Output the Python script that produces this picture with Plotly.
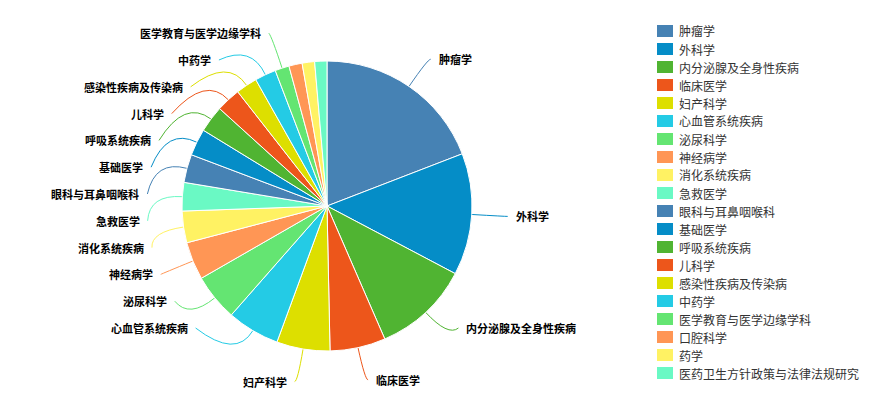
import math
import plotly.graph_objects as go

# ---- data -------------------------------------------------------------
categories = [
    "肿瘤学", "外科学", "内分泌腺及全身性疾病", "临床医学", "妇产科学",
    "心血管系统疾病", "泌尿科学", "神经病学", "消化系统疾病", "急救医学",
    "眼科与耳鼻咽喉科", "基础医学", "呼吸系统疾病", "儿科学", "感染性疾病及传染病",
    "中药学", "医学教育与医学边缘学科", "口腔科学", "药学", "医药卫生方针政策与法律法规研究",
]
values = [689, 489, 387, 223, 214, 211, 188, 152, 127, 114,
          113, 108, 107, 98, 86, 85, 57, 53, 50, 49]
palette = ["#4682B4", "#058DC7", "#50B432", "#ED561B", "#DDDF00",
           "#24CBE5", "#64E572", "#FF9655", "#FFF263", "#6AF9C4"]

# ---- layout constants (pixels) ------------------------------------------
W, H = 877, 416
CX, CY, RADIUS = 327, 206, 145
BEND_R = 178          # where the leader line bends / natural label height
TAIL = 3              # short horizontal tail after the bend
ANCHOR_R = 180        # circle the shifted label anchors sit on
SLOT = 26.8           # vertical room reserved per outside label
BAND_BOTTOM = 328     # lowest centre allowed for labels stacked at the sides
AXIS_SIN = 0.25       # labels this close to the vertical axis stay put
TEXT_GAP = 6
MIN_LABEL_ANGLE = 5.5  # slices narrower than this (degrees) get no label

LABEL_FONT = dict(family="Noto Sans CJK SC, sans-serif", size=11, color="#000000", weight="bold")
LEGEND_FONT = dict(family="Noto Sans CJK SC, sans-serif", size=12, color="#333333")
LEG_X, LEG_TOP, LEG_STEP = 657, 31, 18
SWATCH_W, SWATCH_H = 16, 12

colors = [palette[i % len(palette)] for i in range(len(categories))]


def to_paper(x, y):
    return x / W, 1 - y / H


fig = go.Figure(
    go.Pie(
        labels=categories,
        values=values,
        sort=False,
        direction="clockwise",
        rotation=0,
        marker=dict(colors=colors, line=dict(color="#ffffff", width=1)),
        textinfo="none",
        hovertemplate="%{label}<br>%{value} (%{percent})<extra></extra>",
        domain=dict(x=[(CX - RADIUS) / W, (CX + RADIUS) / W],
                    y=[1 - (CY + RADIUS) / H, 1 - (CY - RADIUS) / H]),
        showlegend=False,
    )
)

# ---- outside labels with leader lines -----------------------------------
total = float(sum(values))
labels = []
start = 0.0
for name, value, color in zip(categories, values, colors):
    sweep = value / total * 360.0
    mid = math.radians(start + sweep / 2.0)
    start += sweep
    if sweep < MIN_LABEL_ANGLE:
        continue
    s, c = math.sin(mid), math.cos(mid)
    side = 1 if s >= 0 else -1
    bend = (CX + BEND_R * s, CY - BEND_R * c)
    labels.append(dict(
        name=name, color=color, side=side, sin=abs(s),
        edge=(CX + RADIUS * s, CY - RADIUS * c),
        bend=bend,
        x=bend[0] + side * TAIL, y=bend[1], moved=False,
    ))


def stack(group):
    """Push overlapping labels apart, then keep the stack above BAND_BOTTOM,
    closing the lowest gaps first."""
    ys = [lab["y"] for lab in group]
    for i in range(1, len(ys)):
        ys[i] = max(ys[i], ys[i - 1] + SLOT)
    over = ys[-1] - BAND_BOTTOM
    i = len(ys) - 1
    while over > 1e-9 and i > 0:
        gap = ys[i] - ys[i - 1] - SLOT
        step = min(gap, over)
        if step > 0:
            for j in range(i, len(ys)):
                ys[j] -= step
            over -= step
        i -= 1
    if over > 1e-9:
        ys = [y - over for y in ys]
    for lab, y in zip(group, ys):
        if abs(y - lab["y"]) > 1e-6:
            lab["y"] = y
            lab["moved"] = True


for side in (1, -1):
    members = [lab for lab in labels if lab["side"] == side]
    movable = sorted((lab for lab in members if lab["sin"] >= AXIS_SIN), key=lambda lab: lab["y"])
    if movable:
        stack(movable)
    # shifted labels slide along an ellipse through the outermost label of each half
    for upper in (True, False):
        semi = [lab for lab in members if (lab["y"] < CY) == upper]
        if not semi:
            continue
        far = max(semi, key=lambda lab: abs(lab["y"] - CY))
        dx0, dy0 = abs(far["x"] - CX), abs(far["y"] - CY)
        rb = dy0 / math.sqrt(1 - (dx0 / ANCHOR_R) ** 2) if dx0 < ANCHOR_R else ANCHOR_R
        rb = max(rb, dy0 + 1e-6)
        for lab in semi:
            if not lab["moved"]:
                continue
            dy = abs(lab["y"] - CY)
            dx = ANCHOR_R * math.sqrt(max(0.0, 1 - (dy / rb) ** 2))
            lab["x"] = CX + side * dx

shapes = []
annotations = []
for lab in labels:
    (ex, ey), (bx, by) = to_paper(*lab["edge"]), to_paper(*lab["bend"])
    ax, ay = to_paper(lab["x"], lab["y"])
    shapes.append(dict(
        type="path", xref="paper", yref="paper", layer="below",
        path=f"M {ex:.5f},{ey:.5f} Q {bx:.5f},{by:.5f} {ax:.5f},{ay:.5f}",
        line=dict(color=lab["color"], width=1),
    ))
    tx, ty = to_paper(lab["x"] + lab["side"] * TEXT_GAP, lab["y"])
    annotations.append(dict(
        x=tx, y=ty, xref="paper", yref="paper", text=lab["name"],
        showarrow=False, xanchor="left" if lab["side"] > 0 else "right",
        yanchor="middle", font=LABEL_FONT,
    ))

# ---- legend column ------------------------------------------------------
for i, (name, color) in enumerate(zip(categories, colors)):
    yc = LEG_TOP + i * LEG_STEP
    x0, y0 = to_paper(LEG_X, yc + SWATCH_H / 2)
    x1, y1 = to_paper(LEG_X + SWATCH_W, yc - SWATCH_H / 2)
    shapes.append(dict(type="rect", xref="paper", yref="paper",
                       x0=x0, x1=x1, y0=y0, y1=y1,
                       fillcolor=color, line=dict(width=0)))
    tx, ty = to_paper(LEG_X + SWATCH_W + 4, yc)
    annotations.append(dict(x=tx, y=ty, xref="paper", yref="paper", text=name,
                            showarrow=False, xanchor="left", yanchor="middle",
                            font=LEGEND_FONT))

fig.update_layout(
    width=W, height=H,
    margin=dict(l=0, r=0, t=0, b=0),
    paper_bgcolor="#ffffff", plot_bgcolor="#ffffff",
    shapes=shapes, annotations=annotations,
    showlegend=False,
)

fig.write_html("out.html", config={"displayModeBar": False})
